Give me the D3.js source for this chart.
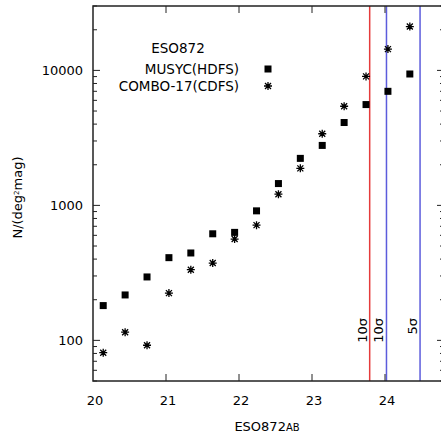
<!DOCTYPE html>
<html>
<head>
<meta charset="utf-8">
<script src="https://cdn.jsdelivr.net/npm/d3@7"></script>
<style>
  body { margin: 0; background: #fff; }
  svg { display: block; font-family: "DejaVu Sans", sans-serif; }
</style>
</head>
<body>
<div id="chart"></div>
<script>
// magnitude bins (ESO872 AB)
var mags = [20.14, 20.44, 20.74, 21.04, 21.34, 21.64, 21.94, 22.24, 22.54, 22.84, 23.14, 23.44, 23.74, 24.04, 24.34];
var musyc = [181, 217, 295, 410, 444, 616, 631, 911, 1451, 2230, 2781, 4111, 5583, 6998, 9406];
var combo = [81, 115, 92, 224, 334, 374, 563, 714, 1210, 1881, 3393, 5424, 9031, 14380, 21120];
var xTicks = [20, 21, 22, 23, 24];
var yTicks = [100, 1000, 10000];
// depth limits
var limits = [
  { mag: 23.79, label: "10σ", color: "#e53b3b" },
  { mag: 24.02, label: "10σ", color: "#5c5cdc" },
  { mag: 24.48, label: "5σ", color: "#5c5cdc" }
];

var W = 441, H = 441;
var margin = { top: 6, right: -3, bottom: 60, left: 93 };
var pL = margin.left, pR = W - margin.right,
    pT = margin.top, pB = H - margin.bottom;

var svg = d3.select("#chart").append("svg")
    .attr("width", W).attr("height", H);

var x = d3.scaleLinear().domain([20, 24.808]).range([pL, pR]);
var y = d3.scaleLog().domain([50, 30000]).range([pB, pT]);

// minor ticks for log axis
var minor = [];
[10, 100, 1000, 10000].forEach(function (dec) {
  for (var k = 2; k <= 9; k++) {
    var v = dec * k;
    if (v >= 50 && v <= 30000) minor.push(v);
  }
});

var g = svg.append("g");

// vertical limit lines
limits.forEach(function (l) {
  g.append("line")
    .attr("x1", x(l.mag)).attr("x2", x(l.mag))
    .attr("y1", pT).attr("y2", pB)
    .attr("stroke", l.color).attr("stroke-width", 1.5);
  g.append("text")
    .attr("transform", "translate(" + (x(l.mag) - 3) + ",318) rotate(-90)")
    .attr("text-anchor", "end")
    .attr("font-size", 13)
    .text(l.label);
});

// frame
g.append("rect")
  .attr("x", pL).attr("y", pT)
  .attr("width", pR - pL).attr("height", pB - pT)
  .attr("fill", "none").attr("stroke", "#222").attr("stroke-width", 1.5);

// x ticks (bottom and top, inward)
xTicks.slice(1).forEach(function (t) {
  g.append("line").attr("x1", x(t)).attr("x2", x(t))
    .attr("y1", pB).attr("y2", pB - 7).attr("stroke", "#222");
  g.append("line").attr("x1", x(t)).attr("x2", x(t))
    .attr("y1", pT).attr("y2", pT + 7).attr("stroke", "#222");
});
xTicks.forEach(function (t) {
  g.append("text")
    .attr("x", x(t) + 2).attr("y", 405)
    .attr("text-anchor", "middle").attr("font-size", 13)
    .text(t);
});

// y ticks
yTicks.forEach(function (t) {
  g.append("line").attr("x1", pL).attr("x2", pL + 7)
    .attr("y1", y(t)).attr("y2", y(t)).attr("stroke", "#222");
  g.append("line").attr("x1", pR).attr("x2", pR - 7)
    .attr("y1", y(t)).attr("y2", y(t)).attr("stroke", "#222");
  g.append("text")
    .attr("x", pL - 10).attr("y", y(t))
    .attr("dy", "0.36em")
    .attr("text-anchor", "end").attr("font-size", 13)
    .text(t);
});
minor.forEach(function (t) {
  g.append("line").attr("x1", pL).attr("x2", pL + 4)
    .attr("y1", y(t)).attr("y2", y(t)).attr("stroke", "#222");
  g.append("line").attr("x1", pR).attr("x2", pR - 4)
    .attr("y1", y(t)).attr("y2", y(t)).attr("stroke", "#222");
});

// markers
function starPath(cx, cy, r) {
  var d = r * 0.75;
  return "M" + (cx - r) + "," + cy + "H" + (cx + r) +
    "M" + cx + "," + (cy - r) + "V" + (cy + r) +
    "M" + (cx - d) + "," + (cy - d) + "L" + (cx + d) + "," + (cy + d) +
    "M" + (cx - d) + "," + (cy + d) + "L" + (cx + d) + "," + (cy - d);
}

g.selectAll(".sq").data(mags).enter().append("rect")
  .attr("class", "sq")
  .attr("x", function (d) { return x(d) - 3.5; })
  .attr("y", function (d, i) { return y(musyc[i]) - 3.5; })
  .attr("width", 7).attr("height", 7)
  .attr("fill", "#000");

g.selectAll(".st").data(mags).enter().append("path")
  .attr("class", "st")
  .attr("d", function (d, i) { return starPath(x(d), y(combo[i]), 4); })
  .attr("stroke", "#000").attr("stroke-width", 1.3).attr("fill", "none");

// legend
g.append("text").attr("x", 178).attr("y", 48).attr("dy", "0.36em")
  .attr("text-anchor", "middle").attr("font-size", 13.5).text("ESO872");
g.append("text").attr("x", 239).attr("y", 69).attr("dy", "0.36em")
  .attr("text-anchor", "end").attr("font-size", 13.5).text("MUSYC(HDFS)");
g.append("rect").attr("x", 268 - 3.5).attr("y", 69 - 3.5)
  .attr("width", 7).attr("height", 7).attr("fill", "#000");
g.append("text").attr("x", 239).attr("y", 86).attr("dy", "0.36em")
  .attr("text-anchor", "end").attr("font-size", 13.5).text("COMBO-17(CDFS)");
g.append("path").attr("d", starPath(268, 86, 4))
  .attr("stroke", "#000").attr("stroke-width", 1.3).attr("fill", "none");

// axis titles
var xl = g.append("text").attr("x", 267).attr("y", 431)
  .attr("text-anchor", "middle").attr("font-size", 13);
xl.append("tspan").text("ESO872");
xl.append("tspan").attr("font-size", 10).text("AB");

var yl = g.append("text")
  .attr("transform", "translate(22," + ((pT + pB) / 2 + 4) + ") rotate(-90)")
  .attr("text-anchor", "middle").attr("font-size", 13);
yl.append("tspan").text("N/(deg");
yl.append("tspan").attr("font-size", 7).attr("dy", "-0.5em").text("2");
yl.append("tspan").attr("dy", "0.3em").text("mag)");
</script>
</body>
</html>
